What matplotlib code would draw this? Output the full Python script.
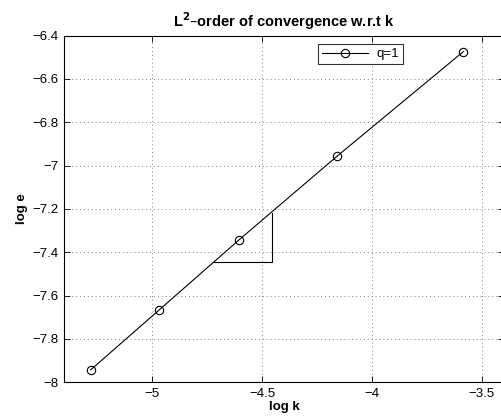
import matplotlib.pyplot as plt
from matplotlib.ticker import FuncFormatter

plt.rcParams['font.family'] = ['Liberation Sans', 'DejaVu Sans']

# data
log_k = [-5.280, -4.968, -4.605, -4.159, -3.584]
log_e = [-7.943, -7.666, -7.343, -6.957, -6.474]

# slope triangle
tri_x = [-4.723, -4.455, -4.455]
tri_y = [-7.443, -7.443, -7.220]

x_ticks = [-5, -4.5, -4, -3.5]
y_ticks = [-8, -7.8, -7.6, -7.4, -7.2, -7, -6.8, -6.6, -6.4]

fig = plt.figure(figsize=(5.02, 4.19), dpi=100)
ax = fig.add_axes([0.128, 0.0876, 0.8754, 0.8274])

ax.plot(log_k, log_e, color='black', lw=0.8, marker='o', markersize=6,
        markerfacecolor='none', markeredgewidth=0.8, label='q=1')
ax.plot(tri_x, tri_y, color='black', lw=0.8)

ax.set_xlim(-5.4, -3.4)
ax.set_ylim(-8, -6.4)
ax.set_xticks(x_ticks)
ax.set_yticks(y_ticks)
fmt = FuncFormatter(lambda v, p: ('%g' % v).replace('-', '\u2212'))
ax.xaxis.set_major_formatter(fmt)
ax.yaxis.set_major_formatter(fmt)
ax.tick_params(direction='in', labelsize=9.5, top=True, right=True, length=4, width=0.6, pad=4)
for s in ax.spines.values():
    s.set_linewidth(0.8)

ax.grid(True, linestyle=(0, (1, 3)), color='0.5', lw=0.7)

ax.set_title('L$^\\mathbf{2}$\u2013order of convergence w.r.t k', fontsize=10.5,
             fontweight='bold', pad=6)
ax.set_xlabel('log k', fontsize=9.5, fontweight='bold', labelpad=1)
ax.set_ylabel('log e', fontsize=9.5, fontweight='bold', labelpad=3)

leg = ax.legend(loc='upper left', bbox_to_anchor=(0.578, 0.976), fontsize=9.5,
                frameon=True, fancybox=False, edgecolor='black', handlelength=3.5,
                handletextpad=0.6, borderpad=0.3, borderaxespad=0)
leg.get_frame().set_linewidth(0.8)

fig.savefig('out.png', dpi=100)
